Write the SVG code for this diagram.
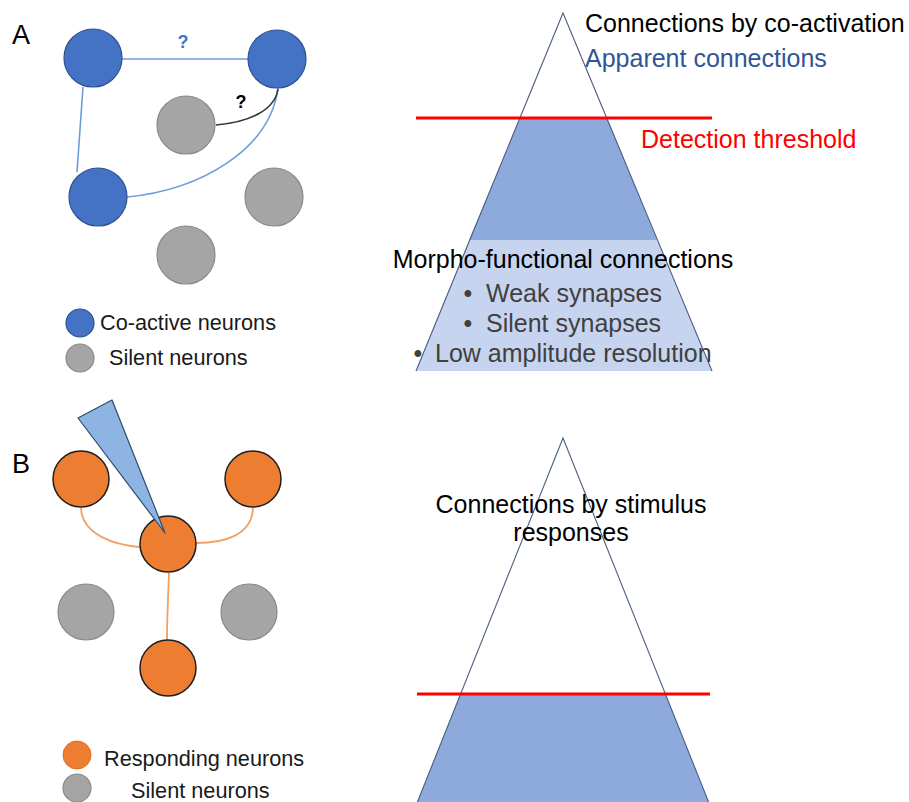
<svg xmlns="http://www.w3.org/2000/svg" width="909" height="802" viewBox="0 0 909 802">
<style>
text{font-family:"Liberation Sans",Arial,sans-serif;}
.lbl{font-size:27px;fill:#000;}
.big{font-size:25px;fill:#000;}
.bul{font-size:25px;fill:#404040;}
.leg{font-size:21.7px;fill:#1a1a1a;}
.blue{fill:#4472c4;stroke:#2f528f;stroke-width:1.2;}
.gray{fill:#a5a5a5;stroke:#8a8a8a;stroke-width:1.2;}
.orange{fill:#ed7d31;stroke:#1e1e1e;stroke-width:1.5;}
.bl{fill:none;stroke:#6d9be0;stroke-width:1.6;}
.ol{fill:none;stroke:#f4a060;stroke-width:1.8;}
.red{stroke:#ff0000;stroke-width:3;}
.edge{stroke:#4a5d80;stroke-width:1.1;fill:none;}
.q{font-size:18px;font-weight:bold;text-anchor:middle;}
</style>

<text class="lbl" x="12" y="44">A</text>
<text class="lbl" x="12" y="473">B</text>

<g id="connectors">
  <path class="bl" d="M122,59 L248,59"/>
  <path class="bl" d="M83,87 Q80,130 77,172"/>
  <path class="bl" d="M127,197 C200,190 270,150 278,88"/>
  <path d="M216,125 C250,122 275,110 278,89" fill="none" stroke="#333" stroke-width="1.6"/>
  <path class="ol" d="M81,508 C82,535 115,545 140,547"/>
  <path class="ol" d="M253,508 C252,535 225,543 196,543"/>
  <path class="ol" d="M169,573 C168,600 167,620 167,640"/>
</g>
<text class="q" x="183" y="48" fill="#4472c4">?</text>
<text class="q" x="241" y="108" fill="#000">?</text>

<g id="a-n1"><circle class="blue" cx="93" cy="58" r="29"/></g>
<g id="a-n2"><circle class="blue" cx="277" cy="59" r="29"/></g>
<g id="a-n3"><circle class="gray" cx="186" cy="125" r="29"/></g>
<g id="a-n4"><circle class="blue" cx="98" cy="197" r="29"/></g>
<g id="a-n5"><circle class="gray" cx="274" cy="197" r="29"/></g>
<g id="a-n6"><circle class="gray" cx="186" cy="255" r="29"/></g>

<g id="a-legend">
  <circle class="blue" cx="80" cy="323" r="14"/>
  <text class="leg" x="100" y="330">Co-active neurons</text>
  <circle class="gray" cx="80" cy="358" r="14"/>
  <text class="leg" x="109" y="365">Silent neurons</text>
</g>

<g id="a-pyramid">
  <polygon points="469,240 657,240 712,371 416,371" fill="#c7d4ef"/>
  <polygon points="520,118 607,118 657,240 469,240" fill="#8eaadc"/>
  <path class="edge" d="M416,371 L563,13 L712,371"/>
  <line class="red" x1="416" y1="118" x2="712" y2="118"/>
  <text class="big" x="585" y="32">Connections by co-activation</text>
  <text class="big" x="585" y="67" style="fill:#2f5597">Apparent connections</text>
  <text class="big" x="641" y="148" style="fill:#ff0000">Detection threshold</text>
  <text class="big" x="563" y="268" text-anchor="middle">Morpho-functional connections</text>
  <text class="bul" x="468" y="302" text-anchor="middle">•</text>
  <text class="bul" x="486" y="302">Weak synapses</text>
  <text class="bul" x="468" y="332" text-anchor="middle">•</text>
  <text class="bul" x="486" y="332">Silent synapses</text>
  <text class="bul" x="418" y="362" text-anchor="middle">•</text>
  <text class="bul" x="435" y="362">Low amplitude resolution</text>
</g>

<g id="b-n1"><circle class="orange" cx="81" cy="479" r="28"/></g>
<g id="b-n2"><circle class="orange" cx="253" cy="479" r="28"/></g>
<g id="b-n3"><circle class="orange" cx="168" cy="544" r="28"/></g>
<g id="b-n4"><circle class="gray" cx="86" cy="612" r="28"/></g>
<g id="b-n5"><circle class="gray" cx="249" cy="612" r="28"/></g>
<g id="b-n6"><circle class="orange" cx="168" cy="668" r="28"/></g>
<g id="b-pipette"><polygon points="78,418 112,400 165,533" fill="#8db4e2" stroke="#2f4b6e" stroke-width="1.2" stroke-linejoin="round"/></g>

<g id="b-legend">
  <circle cx="77" cy="755" r="14" fill="#ed7d31" stroke="#e07020" stroke-width="1"/>
  <text class="leg" x="104" y="766">Responding neurons</text>
  <circle class="gray" cx="77" cy="788" r="14"/>
  <text class="leg" x="131" y="798">Silent neurons</text>
</g>

<g id="b-pyramid">
  <polygon points="460.5,694 665.5,694 711,808 415,808" fill="#8eaadc"/>
  <path class="edge" d="M415,808 L563,438 L711,808"/>
  <line class="red" x1="417" y1="694" x2="710" y2="694"/>
  <text class="big" x="571" y="513" text-anchor="middle">Connections by stimulus</text>
  <text class="big" x="571" y="541" text-anchor="middle">responses</text>
</g>
</svg>
